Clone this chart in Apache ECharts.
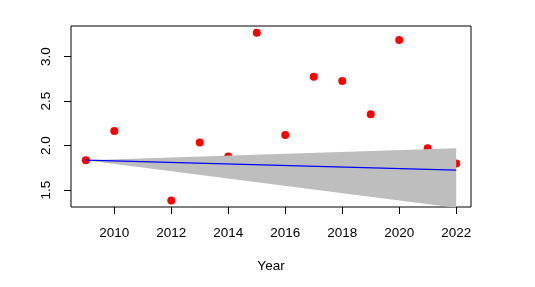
<!DOCTYPE html>
<html>
<head>
<meta charset="utf-8">
<script src="https://cdn.jsdelivr.net/npm/echarts@6/dist/echarts.min.js"></script>
<style>html,body{margin:0;padding:0;background:#fff}#c{width:535px;height:287px}</style>
</head>
<body>
<div id="c"></div>
<script>
var years = [2009, 2010, 2012, 2013, 2014, 2015, 2016, 2017, 2018, 2019, 2020, 2021, 2022];
var values = [1.836, 2.165, 1.382, 2.034, 1.876, 3.27, 2.12, 2.775, 2.727, 2.353, 3.188, 1.97, 1.798];
var fitYears = [2009, 2022];
var fitValues = [1.836, 1.724];
var bandUpper = [1.836, 1.97];
var bandLower = [1.836, 1.30];
var xTicks = [2010, 2012, 2014, 2016, 2018, 2020, 2022];
var yTicks = [1.5, 2.0, 2.5, 3.0];

var font = 'Liberation Sans, Arial, sans-serif';
var chart = echarts.init(document.getElementById('c'));
var points = years.map(function (y, i) { return [y, values[i]]; });
var fit = fitYears.map(function (y, i) { return [y, fitValues[i]]; });
var band = fitYears.map(function (y, i) { return [y, bandLower[i], bandUpper[i]]; });

chart.setOption({
  animation: false,
  grid: { left: 71, right: 64, top: 26, bottom: 80, show: true, borderColor: '#000', borderWidth: 1, backgroundColor: 'transparent' },
  xAxis: {
    type: 'value', min: 2008.48, max: 2022.52,
    name: 'Year', nameLocation: 'middle', nameGap: 52,
    nameTextStyle: { fontFamily: font, fontSize: 13.5, color: '#000' },
    axisLine: { show: false },
    splitLine: { show: false },
    axisTick: { show: true, length: 7, inside: false, customValues: xTicks, lineStyle: { color: '#000' } },
    axisLabel: { customValues: xTicks, margin: 19, fontFamily: font, fontSize: 13.5, color: '#000',
      formatter: function (v) { return String(v); } }
  },
  yAxis: {
    type: 'value', min: 1.309, max: 3.345,
    axisLine: { show: false },
    splitLine: { show: false },
    axisTick: { show: true, length: 7, customValues: yTicks, lineStyle: { color: '#000' } },
    axisLabel: { customValues: yTicks, rotate: 90, margin: 18, fontFamily: font, fontSize: 13.5, color: '#000',
      formatter: function (v) { return v.toFixed(1); } }
  },
  series: [
    { type: 'scatter', data: points, symbol: 'circle', symbolSize: 8, itemStyle: { color: '#ff0000', opacity: 1 }, z: 2 },
    {
      type: 'custom', data: band, z: 3, clip: true, silent: true,
      renderItem: function (params, api) {
        if (params.dataIndex !== 0) return null;
        var up = [], lo = [];
        for (var i = 0; i < band.length; i++) {
          up.push(api.coord([band[i][0], band[i][2]]));
          lo.unshift(api.coord([band[i][0], band[i][1]]));
        }
        return {
          type: 'polygon',
          shape: { points: up.concat(lo) },
          style: { fill: '#bebebe', stroke: 'none', lineWidth: 0 }
        };
      },
      encode: { x: 0, y: [1, 2] }
    },
    { type: 'line', data: fit, symbol: 'none', silent: true, lineStyle: { color: '#0000ff', width: 1.2 }, z: 4 }
  ]
});
</script>
</body>
</html>
